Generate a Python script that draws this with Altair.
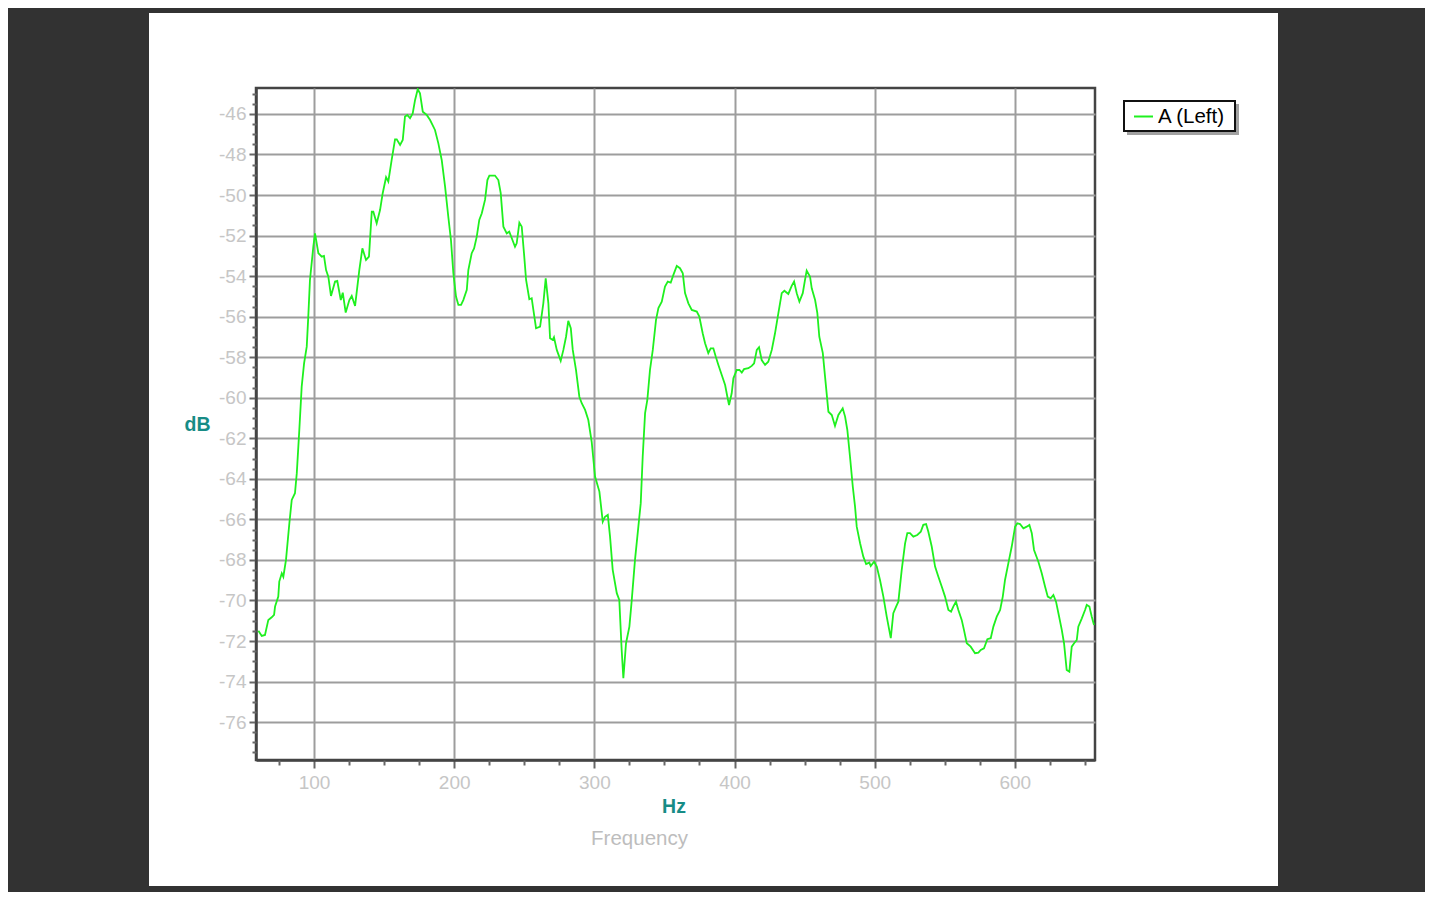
import altair as alt
import pandas as pd

# ---- data ----
hz = [
    60.3, 62.7, 65.0, 67.4, 69.8, 71.5, 72.2, 74.5, 75.2, 77.0,
    78.1, 80.0, 82.4, 84.1, 86.4, 87.7, 89.5, 91.2, 92.9, 94.8,
    95.9, 97.1, 99.5, 100.7, 103.1, 105.5, 107.1, 108.6, 110.2, 112.1,
    115.0, 116.6, 119.1, 120.5, 122.6, 125.2, 126.9, 129.3, 132.3, 134.5,
    137.1, 139.2, 141.2, 142.3, 144.7, 147.1, 149.0, 151.4, 153.0, 155.4,
    157.8, 159.0, 161.4, 163.3, 164.9, 166.6, 168.5, 170.4, 172.1, 174.0,
    175.6, 177.6, 180.4, 182.8, 186.3, 188.7, 191.1, 193.5, 195.8, 197.7,
    199.4, 201.3, 203.0, 204.9, 206.5, 209.0, 210.1, 212.5, 214.2, 216.1,
    217.9, 219.7, 222.0, 223.7, 225.1, 229.1, 231.5, 233.2, 235.1, 237.5,
    239.3, 241.1, 243.4, 244.6, 246.5, 248.2, 249.8, 251.3, 253.6, 255.3,
    256.5, 258.4, 261.3, 263.6, 265.3, 267.2, 268.4, 270.3, 271.2, 273.2,
    276.0, 277.9, 279.8, 281.4, 283.2, 284.6, 286.9, 289.3, 291.0, 293.4,
    295.7, 298.1, 300.5, 303.6, 306.0, 307.6, 309.6, 311.2, 313.1, 316.0,
    317.8, 319.5, 320.7, 322.6, 325.0, 326.7, 329.0, 331.4, 333.1, 334.5,
    336.2, 337.8, 339.7, 341.7, 344.0, 345.7, 348.1, 350.4, 352.4, 354.5,
    356.4, 358.8, 361.1, 363.1, 364.7, 367.1, 369.5, 373.1, 374.9, 377.3,
    379.0, 381.3, 383.0, 384.9, 386.6, 388.5, 390.9, 393.3, 394.9, 396.1,
    398.0, 399.2, 401.6, 403.5, 405.2, 406.8, 409.9, 412.3, 414.0, 415.9,
    417.5, 419.4, 421.8, 424.1, 426.6, 428.9, 431.3, 433.7, 435.6, 438.4,
    440.8, 442.5, 444.4, 446.3, 448.7, 450.3, 451.5, 453.9, 455.1, 457.5,
    459.1, 460.5, 463.0, 464.6, 467.0, 469.4, 471.7, 474.1, 477.2, 478.9,
    480.5, 482.4, 484.4, 486.0, 487.2, 489.6, 491.9, 493.9, 496.2, 497.2,
    499.6, 501.5, 503.8, 506.2, 508.6, 511.5, 513.3, 515.3, 516.9, 519.3,
    521.7, 523.3, 525.2, 527.6, 530.4, 532.9, 534.7, 536.7, 538.3, 540.7,
    543.1, 545.4, 547.9, 550.2, 552.6, 554.5, 556.1, 558.0, 559.7, 562.1,
    563.7, 565.7, 568.5, 571.6, 574.0, 575.7, 578.0, 580.4, 582.8, 584.7,
    587.1, 589.5, 591.4, 593.0, 595.4, 597.8, 600.2, 601.8, 603.7, 606.1,
    608.5, 610.4, 612.1, 613.7, 616.8, 619.2, 621.6, 623.5, 625.6, 627.5,
    629.4, 631.1, 633.5, 635.1, 637.0, 638.9, 640.6, 642.3, 644.2, 645.3,
    647.8, 650.1, 651.3, 653.2, 654.9, 656.5,
]
db = [
    -71.49, -71.75, -71.70, -70.96, -70.83, -70.71, -70.30, -69.81, -69.07, -68.66,
    -68.83, -68.00, -66.19, -65.04, -64.71, -63.72, -61.59, -59.45, -58.30, -57.48,
    -56.00, -54.19, -52.55, -51.89, -52.87, -53.04, -53.00, -53.70, -54.03, -54.98,
    -54.27, -54.24, -55.18, -54.82, -55.80, -55.18, -54.98, -55.47, -53.70, -52.63,
    -53.20, -53.04, -50.82, -50.82, -51.39, -50.74, -49.91, -49.12, -49.34, -48.27,
    -47.25, -47.25, -47.53, -47.28, -46.13, -46.05, -46.21, -45.97, -45.31, -44.78,
    -44.98, -45.89, -46.05, -46.30, -46.79, -47.45, -48.27, -49.59, -51.07, -52.22,
    -53.86, -55.01, -55.42, -55.42, -55.18, -54.68, -53.70, -52.87, -52.63, -52.05,
    -51.23, -50.90, -50.24, -49.26, -49.04, -49.04, -49.26, -49.91, -51.56, -51.89,
    -51.81, -52.13, -52.55, -52.38, -51.36, -51.56, -52.87, -54.19, -55.14, -55.09,
    -55.67, -56.57, -56.49, -55.34, -54.11, -55.34, -57.06, -57.15, -57.02, -57.64,
    -58.18, -57.64, -56.99, -56.21, -56.57, -57.64, -58.63, -59.95, -60.27, -60.60,
    -61.10, -62.17, -63.89, -64.63, -66.11, -65.87, -65.78, -66.85, -68.49, -69.64,
    -69.97, -72.44, -73.84, -72.11, -71.29, -69.97, -68.00, -66.36, -65.20, -62.91,
    -60.76, -60.11, -58.63, -57.64, -56.16, -55.58, -55.26, -54.52, -54.27, -54.32,
    -53.94, -53.50, -53.61, -53.86, -54.84, -55.34, -55.67, -55.75, -56.00, -56.82,
    -57.31, -57.80, -57.56, -57.56, -57.97, -58.38, -58.88, -59.37, -59.95, -60.36,
    -59.78, -59.04, -58.63, -58.63, -58.76, -58.59, -58.54, -58.43, -58.30, -57.64,
    -57.51, -58.14, -58.38, -58.22, -57.64, -56.82, -55.83, -54.84, -54.72, -54.88,
    -54.48, -54.27, -54.84, -55.26, -54.84, -54.19, -53.73, -54.03, -54.60, -55.18,
    -55.83, -56.99, -57.80, -58.96, -60.69, -60.85, -61.39, -60.85, -60.52, -60.93,
    -61.59, -62.91, -64.39, -65.37, -66.36, -67.18, -67.84, -68.20, -68.13, -68.30,
    -68.09, -68.33, -68.99, -69.81, -70.80, -71.86, -70.63, -70.30, -70.06, -68.49,
    -67.18, -66.68, -66.68, -66.85, -66.77, -66.61, -66.27, -66.23, -66.61, -67.34,
    -68.33, -68.82, -69.32, -69.81, -70.47, -70.55, -70.30, -70.06, -70.47, -70.96,
    -71.45, -72.11, -72.28, -72.60, -72.57, -72.44, -72.36, -71.91, -71.86, -71.29,
    -70.80, -70.47, -69.81, -68.99, -68.16, -67.34, -66.36, -66.19, -66.23, -66.44,
    -66.36, -66.27, -66.68, -67.51, -68.09, -68.66, -69.32, -69.81, -69.89, -69.73,
    -70.06, -70.63, -71.45, -72.11, -73.43, -73.51, -72.28, -72.11, -71.95, -71.29,
    -70.88, -70.47, -70.22, -70.30, -70.80, -71.21,
]
series_name = "A (Left)"
x_domain = [58.6, 657.2]
y_domain = [-77.87, -44.72]
x_major = [100, 200, 300, 400, 500, 600]
x_minor = [75, 125, 150, 175, 225, 250, 275, 325, 350, 375,
           425, 450, 475, 525, 550, 575, 625, 650]
y_major = list(range(-76, -44, 2))
y_minor = [v / 2 for v in range(-155, -89) if v % 4 != 0]

assert len(hz) == len(db)

# ---- styles ----
FONT = "Liberation Sans"
GREEN = "#1ff01f"
TEAL = "#178c86"
LABEL_GRAY = "#c6c6c6"
DARK = "#323232"
GRID = "#9d9d9d"
TICK = "#666666"

W, H = 839, 672
PAD = {"left": 248, "top": 80, "right": 330, "bottom": 132}

df = pd.DataFrame({"hz": hz, "db": db, "series": series_name})
one = pd.DataFrame({"k": [0]})

xs = alt.Scale(domain=x_domain, nice=False, zero=False)
ys = alt.Scale(domain=y_domain, nice=False, zero=False)

line = alt.Chart(df).mark_line(strokeWidth=1.8, clip=True).encode(
    x=alt.X("hz:Q", scale=xs, axis=alt.Axis(
        values=x_major, format="d", orient="bottom", grid=True,
        gridColor=GRID, gridWidth=2, tickSize=8, tickWidth=2, tickColor=TICK,
        domainColor="#444444", domainWidth=2.5,
        labelColor=LABEL_GRAY, labelFontSize=19, labelFont=FONT, labelPadding=5,
        labelFlush=False,
        title="Hz", titleColor=TEAL, titleFont=FONT, titleFontSize=19.5,
        titleFontWeight="bold", titleX=W / 2 - 2, titleY=46,
        titleAlign="center", titleBaseline="middle")),
    y=alt.Y("db:Q", scale=ys, axis=alt.Axis(
        values=y_major, orient="left", grid=True,
        gridColor=GRID, gridWidth=2, tickSize=7, tickWidth=2, tickColor=TICK,
        domainColor="#444444", domainWidth=2.5,
        labelColor=LABEL_GRAY, labelFontSize=19, labelFont=FONT, labelPadding=3,
        labelOverlap=False, labelExpr="toString(datum.value)",
        title="dB", titleColor=TEAL, titleFont=FONT, titleFontSize=19.5,
        titleFontWeight="bold", titleAngle=0, titleX=-59, titleY=336,
        titleAlign="center", titleBaseline="middle")),
    color=alt.Color("series:N",
                    scale=alt.Scale(domain=[series_name], range=[GREEN]),
                    legend=alt.Legend(
                        orient="none", legendX=877, legendY=18, title=None,
                        labelFont=FONT, labelFontSize=20.5, labelColor="#000000",
                        symbolType="stroke", symbolSize=361, symbolStrokeWidth=2,
                        labelOffset=4, padding=0, zindex=1)),
)

minor = alt.Chart(df).mark_point(opacity=0).encode(
    x=alt.X("hz:Q", scale=xs, axis=alt.Axis(
        values=x_minor, orient="bottom", labels=False, grid=False, domain=False,
        tickSize=5, tickWidth=2, tickColor=TICK,
        title="Frequency", titleColor="#bdbdbd", titleFont=FONT, titleFontSize=20.5,
        titleFontWeight="normal", titleX=383, titleY=78,
        titleAlign="center", titleBaseline="middle")),
    y=alt.Y("db:Q", scale=ys, axis=alt.Axis(
        values=y_minor, orient="left", labels=False, grid=False, domain=False,
        tickSize=4, tickWidth=2, tickColor=TICK, title="")),
)


def box(x1, x2, y1, y2, **kw):
    return alt.Chart(one).mark_rect(**kw).encode(
        x=alt.value(x1), x2=alt.value(x2), y=alt.value(y1), y2=alt.value(y2))


# dark page surround of the white panel
frame_top = box(-260, 1180, -90, -75, color=DARK)
frame_bottom = box(-260, 1180, 798, 820, color=DARK)
frame_left = box(-260, -107, -75, 798, color=DARK)
frame_right = box(1022, 1180, -75, 798, color=DARK)

# legend box with shadow
legend_shadow = box(871, 983, 16, 47, color="#8a8a8a", opacity=0.8)
legend_frame = box(868, 979, 13, 43, fill="white", stroke="#111111", strokeWidth=2)

chart = alt.layer(
    frame_top, frame_bottom, frame_left, frame_right,
    legend_shadow, legend_frame, line, minor,
).resolve_axis(x="independent", y="independent").properties(
    width=W, height=H, padding=PAD,
    autosize=alt.AutoSizeParams(type="none"),
    background="white",
).configure_view(stroke="#444444", strokeWidth=2.5)

chart.save("out.html", embed_options={"renderer": "svg", "actions": False})
